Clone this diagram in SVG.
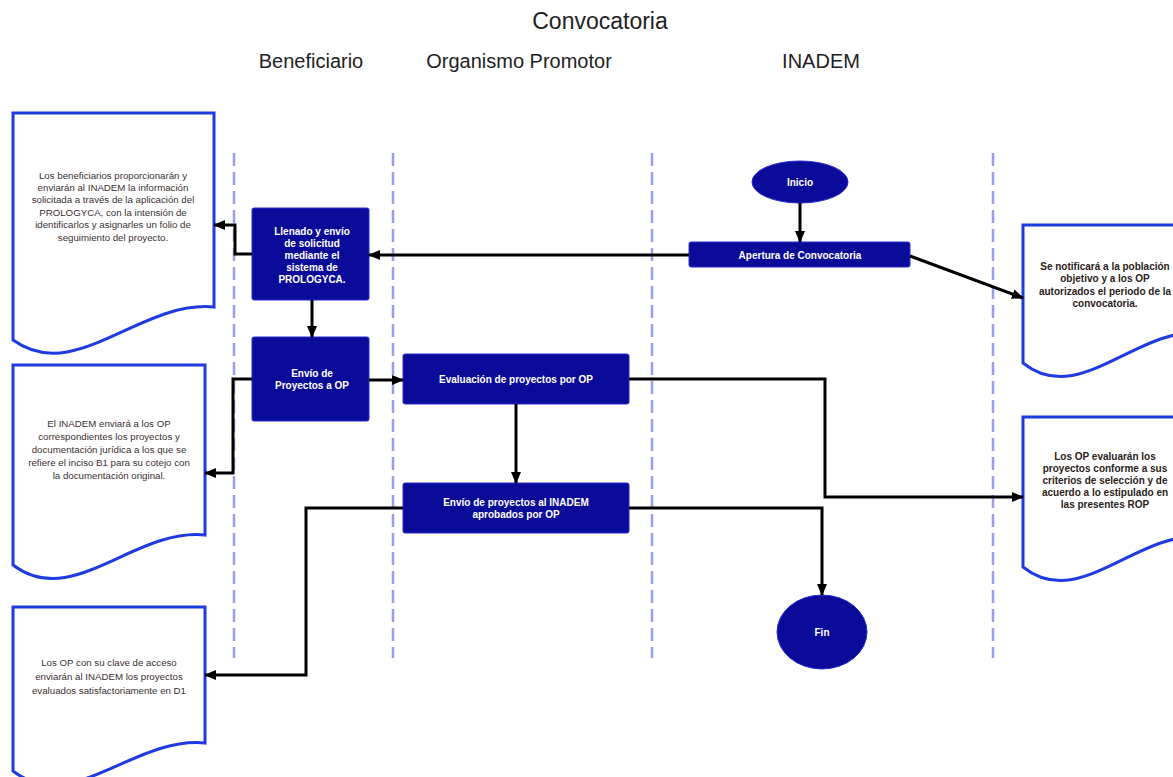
<svg xmlns="http://www.w3.org/2000/svg" width="1173" height="777" viewBox="0 0 1173 777">
<defs>
<marker id="arr" markerUnits="userSpaceOnUse" markerWidth="12" markerHeight="12" viewBox="0 0 12 12" refX="11" refY="6" orient="auto">
<path d="M0,1 L12,6 L0,11 Z" fill="#000"/>
</marker>
<style>
.title{font-family:"Liberation Sans",Arial,sans-serif;fill:#222;text-anchor:middle}
.lane{stroke:#9c9cf0;stroke-width:2.5;stroke-dasharray:13,6;fill:none}
.box{fill:#0b0b9a;stroke:#2a2ad0;stroke-width:1}
.btxt{font-family:"Liberation Sans",Arial,sans-serif;font-size:10px;font-weight:bold;fill:#fff;text-anchor:middle}
.doc{fill:#fff;stroke:#1f3be0;stroke-width:3}
.dtxt{font-family:"Liberation Sans",Arial,sans-serif;font-size:9.7px;fill:#3a3030;text-anchor:middle}
.rtxt{font-family:"Liberation Sans",Arial,sans-serif;font-size:10px;font-weight:bold;fill:#2a2220;text-anchor:middle}
.con{fill:none;stroke:#000;stroke-width:3;marker-end:url(#arr)}
</style>
</defs>
<rect width="1173" height="777" fill="#fff"/>
<g id="titles">
<text class="title" x="600" y="29" font-size="23">Convocatoria</text>
<text class="title" x="311" y="68" font-size="20">Beneficiario</text>
<text class="title" x="519" y="68" font-size="20">Organismo Promotor</text>
<text class="title" x="821" y="68" font-size="20">INADEM</text>
</g>
<g id="lanes">
<line class="lane" x1="234" y1="153" x2="234" y2="658"/>
<line class="lane" x1="393" y1="153" x2="393" y2="658"/>
<line class="lane" x1="652" y1="153" x2="652" y2="658"/>
<line class="lane" x1="993" y1="153" x2="993" y2="658"/>
</g>
<g id="doc1">
<path class="doc" d="M13,113 H214 V307 C140,300 75,385 13,340 Z"/>
<text class="dtxt"><tspan x="113" y="179">Los beneficiarios proporcionarán y</tspan><tspan x="113" y="191">enviarán al INADEM la información</tspan><tspan x="113" y="203">solicitada a través de la aplicación del</tspan><tspan x="113" y="216">PROLOGYCA, con la intensión de</tspan><tspan x="113" y="228">identificarlos y asignarles un folio de</tspan><tspan x="113" y="241">seguimiento del proyecto.</tspan></text>
</g>
<g id="doc2">
<path class="doc" d="M13,365 H205 V535 C134,528 72,610 13,565 Z"/>
<text class="dtxt"><tspan x="109" y="427">El INADEM enviará a los OP</tspan><tspan x="109" y="440">correspondientes los proyectos y</tspan><tspan x="109" y="453">documentación jurídica a los que se</tspan><tspan x="109" y="466">refiere el inciso B1 para su cotejo con</tspan><tspan x="109" y="479">la documentación original.</tspan></text>
</g>
<g id="doc3">
<path class="doc" d="M13,607 H205 V743 C134,736 72,816 13,771 Z"/>
<text class="dtxt"><tspan x="109" y="666">Los OP con su clave de acceso</tspan><tspan x="109" y="680">enviarán al INADEM los proyectos</tspan><tspan x="109" y="694">evaluados satisfactoriamente en D1</tspan></text>
</g>
<g id="doc4">
<path class="doc" d="M1023,225 H1203 V333 C1137,326 1079,408 1023,363 Z"/>
<text class="rtxt"><tspan x="1105" y="270">Se notificará a la población</tspan><tspan x="1105" y="282">objetivo y a los OP</tspan><tspan x="1105" y="295">autorizados el periodo de la</tspan><tspan x="1105" y="307">convocatoria.</tspan></text>
</g>
<g id="doc5">
<path class="doc" d="M1023,417 H1203 V537 C1137,530 1079,612 1023,567 Z"/>
<text class="rtxt"><tspan x="1105" y="460">Los OP evaluarán los</tspan><tspan x="1105" y="472">proyectos conforme a sus</tspan><tspan x="1105" y="484">criterios de selección y de</tspan><tspan x="1105" y="496">acuerdo a lo estipulado en</tspan><tspan x="1105" y="508">las presentes ROP</tspan></text>
</g>
<g id="inicio">
<ellipse class="box" cx="800" cy="182" rx="48" ry="21"/>
<text class="btxt" x="800" y="186">Inicio</text>
</g>
<g id="apertura">
<rect class="box" x="689" y="242" width="221" height="25" rx="2"/>
<text class="btxt" x="800" y="259">Apertura de Convocatoria</text>
</g>
<g id="llenado">
<rect class="box" x="252" y="208" width="117" height="92" rx="2"/>
<text class="btxt"><tspan x="312" y="235">Llenado y envío</tspan><tspan x="312" y="247">de solicitud</tspan><tspan x="312" y="259">mediante el</tspan><tspan x="312" y="271">sistema de</tspan><tspan x="312" y="283">PROLOGYCA.</tspan></text>
</g>
<g id="envio-op">
<rect class="box" x="252" y="337" width="117" height="84" rx="2"/>
<text class="btxt"><tspan x="312" y="377">Envío de</tspan><tspan x="312" y="389">Proyectos a OP</tspan></text>
</g>
<g id="evaluacion">
<rect class="box" x="403" y="354" width="226" height="50" rx="2"/>
<text class="btxt" x="516" y="383">Evaluación de proyectos por OP</text>
</g>
<g id="envio-inadem">
<rect class="box" x="403" y="483" width="226" height="50" rx="2"/>
<text class="btxt"><tspan x="516" y="506">Envío de proyectos al INADEM</tspan><tspan x="516" y="518">aprobados por OP</tspan></text>
</g>
<g id="fin">
<ellipse class="box" cx="822" cy="632" rx="45" ry="37"/>
<text class="btxt" x="822" y="636">Fin</text>
</g>
<g id="connectors">
<path class="con" d="M800,203 V242"/>
<path class="con" d="M689,255 H369"/>
<path class="con" d="M252,254 H235 V225 H214"/>
<path class="con" d="M910,256 L1023,298"/>
<path class="con" d="M312,300 V337"/>
<path class="con" d="M369,380 H403"/>
<path class="con" d="M252,379 H233 V473 H205"/>
<path class="con" d="M516,404 V483"/>
<path class="con" d="M629,379 H825 V497 H1023"/>
<path class="con" d="M403,508 H306 V675 H205"/>
<path class="con" d="M629,508 H822 V595"/>
</g>
</svg>
